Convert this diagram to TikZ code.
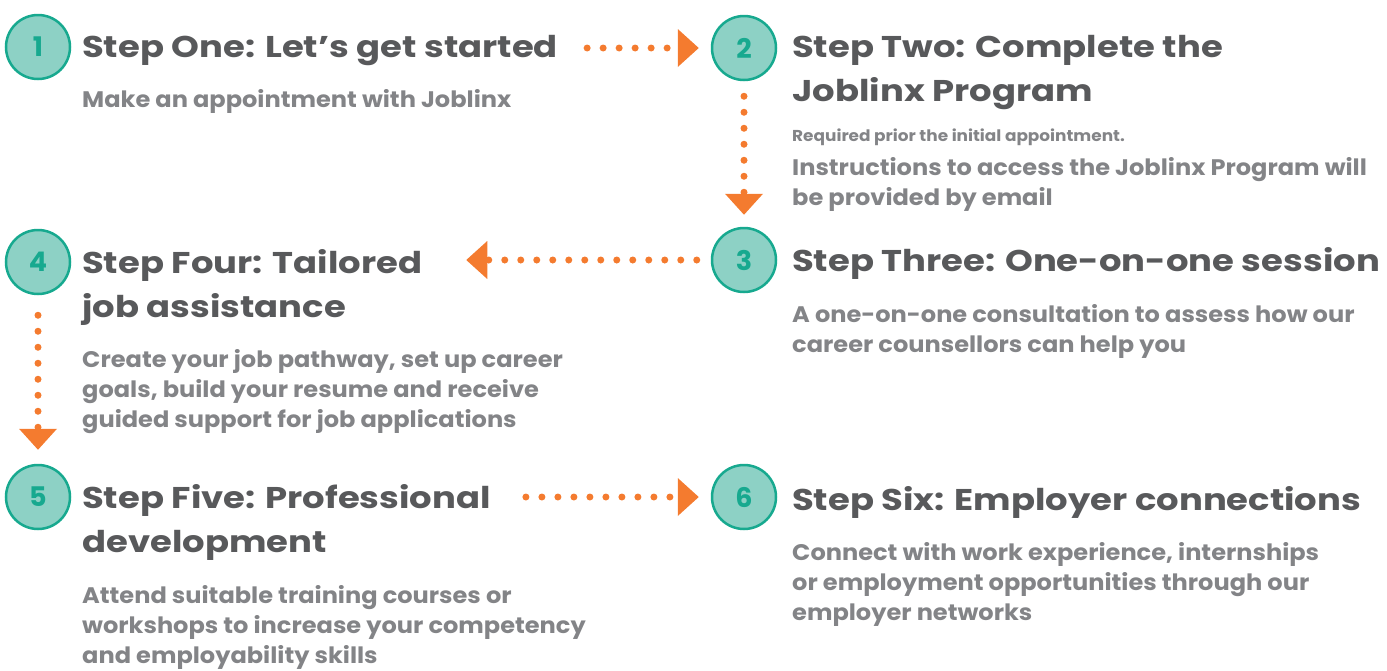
\documentclass[tikz,border=0pt]{standalone}
\usepackage{fontspec}
\setmainfont{Lato}
\newfontfamily\headfont{Poppins}[FakeStretch=1.18]
\newfontfamily\numfont{Poppins}
\newfontfamily\bodyfont{Poppins}[FakeStretch=1.07]
\usetikzlibrary{arrows.meta}
\definecolor{stepteal}{HTML}{17A98F}
\definecolor{steptealfill}{HTML}{8DD1C5}
\definecolor{steporange}{HTML}{F47B2F}
\definecolor{headgrey}{HTML}{58595B}
\definecolor{bodygrey}{HTML}{838487}

\begin{document}
\begin{tikzpicture}[x=1pt,y=-1pt]
\tikzset{
  stepnum/.style={draw=stepteal, fill=steptealfill, circle, line width=2.5pt, minimum size=64pt, inner sep=0pt, text=stepteal, font=\numfont\bfseries\fontsize{27}{27}\selectfont},
  stephead/.style={anchor=base west, inner sep=0pt, align=left, text=headgrey, font=\headfont\bfseries\fontsize{30}{44}\selectfont},
  stepbody/.style={anchor=base west, inner sep=0pt, align=left, text=bodygrey, font=\bodyfont\bfseries\fontsize{22.5}{30}\selectfont},
  stepnote/.style={anchor=base west, inner sep=0pt, text=bodygrey, font=\bodyfont\bfseries\fontsize{15.8}{15.8}\selectfont},
  dotarrow/.style={draw=steporange, line width=7pt, line cap=round, dash pattern=on 0pt off 16pt, -{Triangle[width=38pt,length=21pt,line width=0pt]}}
}
\useasboundingbox (0,0) rectangle (1387,670);

% numbered circles
\node[stepnum] (n1) at (38,47) {1};
\node[stepnum] (n2) at (744,48) {2};
\node[stepnum] (n3) at (744,260) {3};
\node[stepnum] (n4) at (38,262) {4};
\node[stepnum] (n5) at (38,497) {5};
\node[stepnum] (n6) at (744,497) {6};

% headings (base = last line)
\node[stephead] (h1) at (82,57) {Step One: Let’s get started};
\node[stephead] (h2) at (792,101) {Step Two: Complete the\\Joblinx Program};
\node[stephead] (h3) at (792,271) {Step Three: One-on-one session};
\node[stephead] (h4) at (82,317) {Step Four: Tailored\\job assistance};
\node[stephead] (h5) at (82,552) {Step Five: Professional\\development};
\node[stephead] (h6) at (792,510) {Step Six: Employer connections};

% descriptions
\node[stepbody] (b1) at (82,107) {Make an appointment with Joblinx};
\node[stepnote] (r2) at (792,141) {Required prior the initial appointment.};
\node[stepbody] (b2) at (792,205) {Instructions to access the Joblinx Program will\\be provided by email};
\node[stepbody] (b3) at (792,352) {A one-on-one consultation to assess how our\\career counsellors can help you};
\node[stepbody] (b4) at (82,427) {Create your job pathway, set up career\\goals, build your resume and receive\\guided support for job applications};
\node[stepbody] (b5) at (82,663) {Attend suitable training courses or\\workshops to increase your competency\\and employability skills};
\node[stepbody] (b6) at (792,620) {Connect with work experience, internships\\or employment opportunities through our\\employer networks};

% dotted arrows
\draw[dotarrow] ([xshift=29pt]h1.east |- n2.west) -- ([xshift=-12pt]n2.west);
\draw[dotarrow] ([yshift=-15pt]n2.south) -- ([yshift=12pt]n3.north);
\draw[dotarrow] ([xshift=-14pt]n3.west) -- ([xshift=44pt]h4.east |- n3.west);
\draw[dotarrow] ([yshift=-20pt]n4.south) -- ([yshift=14pt]n5.north);
\draw[dotarrow] ([xshift=35pt]h5.east |- n6.west) -- ([xshift=-12pt]n6.west);
\end{tikzpicture}
\end{document}
